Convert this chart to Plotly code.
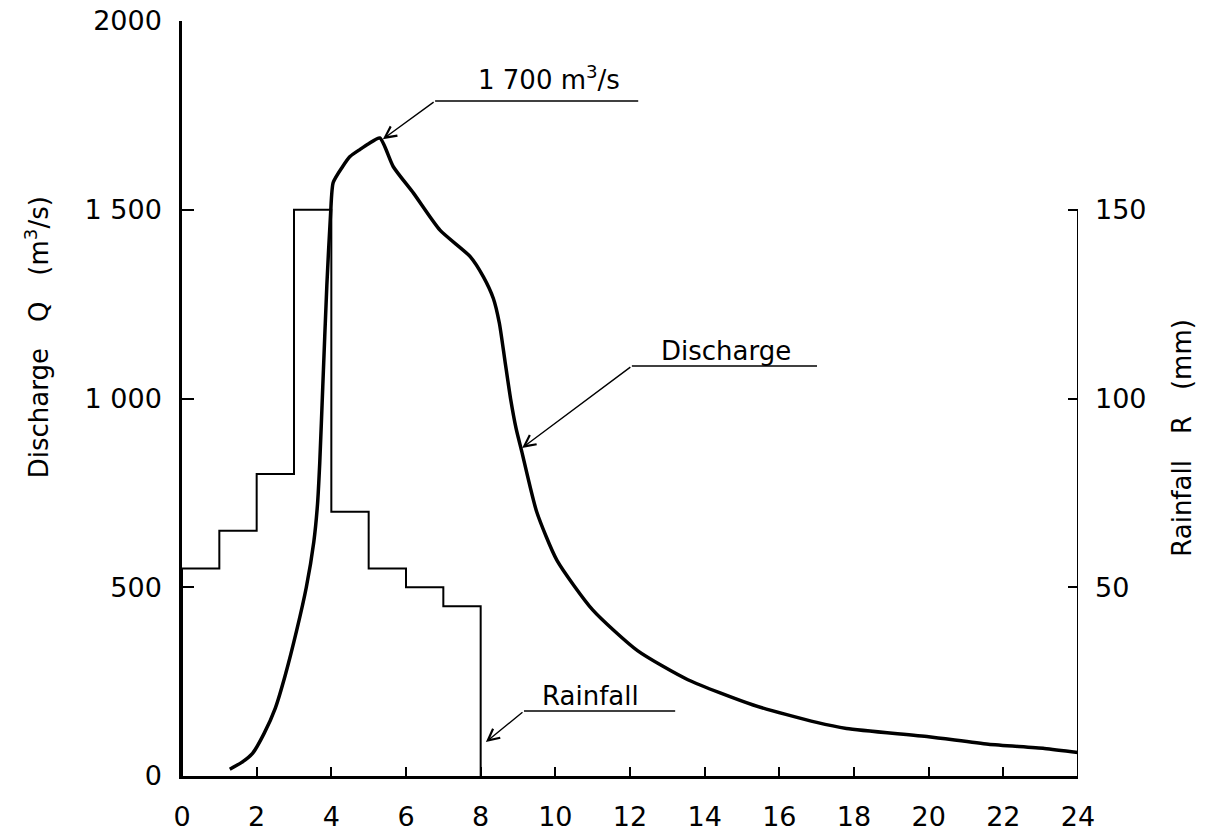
import plotly.graph_objects as go

# ---- data ----
rain_start_hour = [0, 1, 2, 3, 4, 5, 6, 7]
rain_end_hour = 8
rain_mm = [55, 65, 80, 150, 70, 55, 50, 45]

q_hour = [1.28, 1.6, 1.89, 2.2, 2.5, 2.76, 3.07, 3.33, 3.53, 3.63, 3.69, 3.77, 3.88, 3.98,
          4.05, 4.3, 4.5, 4.77, 5.0, 5.3, 5.66, 6.2, 6.91, 7.72, 8.07, 8.34, 8.5,
          8.65, 8.8, 8.95, 9.1, 9.5, 10.04, 11.0, 12.2, 13.55, 15.3, 17.0, 17.8, 20.0,
          21.6, 23.1, 24.0]
q_m3s = [18, 36, 60, 113, 180, 265, 385, 500, 620, 720, 830, 1030, 1300, 1490,
         1572, 1614, 1641, 1660, 1675, 1690, 1614, 1544, 1446, 1376, 1323, 1265, 1200,
         1100, 1000, 920, 860, 700, 572, 440, 332, 255, 188, 142, 126, 104,
         84, 73, 62]

x_ticks = list(range(0, 25, 2))
q_ticks = [0, 500, 1000, 1500, 2000]
q_ticklabels = ["0", "500", "1 000", "1 500", "2000"]
r_ticks = [50, 100, 150]
r_ticklabels = ["50", "100", "150"]

FONT = "DejaVu Sans"
INK = "black"
FS = 27

rx = [rain_start_hour[0]] + rain_start_hour + [rain_end_hour, rain_end_hour]
ry = [0] + rain_mm + [rain_mm[-1], 0]

fig = go.Figure()
fig.add_trace(go.Scatter(x=rx, y=ry, mode="lines", yaxis="y2",
                         line=dict(color=INK, width=2, shape="hv"),
                         showlegend=False, hoverinfo="skip"))
fig.add_trace(go.Scatter(x=q_hour, y=q_m3s, mode="lines",
                         line=dict(color=INK, width=3.5, shape="spline", smoothing=0.6),
                         showlegend=False))

# right axis line only up to 150 mm
fig.add_shape(type="line", xref="x", yref="y", x0=24, x1=24, y0=0, y1=1500,
              line=dict(color=INK, width=2))

# annotation leaders: underline + arrow
def label(text, tx, ty, ux0, ux1, uy, tipx, tipy):
    fig.add_shape(type="line", xref="x", yref="y", x0=ux0, x1=ux1, y0=uy, y1=uy,
                  line=dict(color=INK, width=1.6))
    fig.add_annotation(x=tipx, y=tipy, ax=ux0, ay=uy, axref="x", ayref="y",
                       xref="x", yref="y", text="", showarrow=True,
                       arrowhead=5, arrowsize=1.6, arrowwidth=1.4, arrowcolor=INK)
    fig.add_annotation(x=tx, y=ty, xref="x", yref="y", text=text, showarrow=False,
                       font=dict(family=FONT, size=FS - 1, color=INK),
                       xanchor="center", yanchor="middle")

label("1 700 m<sup>3</sup>/s", 9.83, 1850, 6.78, 12.22, 1788, 5.38, 1687)
label("Discharge", 14.57, 1125, 12.05, 17.01, 1086, 9.11, 869)
label("Rainfall", 10.93, 211, 9.16, 13.21, 172, 8.14, 90)

# axis titles
fig.add_annotation(xref="paper", yref="paper", x=0, y=0.581, xshift=-145,
                   text="Discharge\u2003Q\u2003(m<sup>3</sup>/s)", textangle=-90,
                   showarrow=False, font=dict(family=FONT, size=FS - 1, color=INK),
                   xanchor="center", yanchor="middle")
fig.add_annotation(xref="paper", yref="paper", x=1, y=0.448, xshift=104,
                   text="Rainfall\u2003R\u2003(mm)", textangle=-90,
                   showarrow=False, font=dict(family=FONT, size=FS - 1, color=INK),
                   xanchor="center", yanchor="middle")

fig.update_layout(
    width=1206, height=836,
    margin=dict(l=182, r=128, t=21, b=60, autoexpand=False),
    plot_bgcolor="white", paper_bgcolor="white",
    font=dict(family=FONT, size=FS, color=INK),
    xaxis=dict(range=[0, 24], tickvals=x_ticks, ticktext=[str(v) for v in x_ticks],
               ticks="inside", ticklen=9, tickwidth=1.5, tickcolor=INK,
               showline=True, linecolor=INK, linewidth=2.5, showgrid=False,
               zeroline=False, ticklabelstandoff=15, automargin=False),
    yaxis=dict(range=[0, 2000], tickvals=q_ticks, ticktext=q_ticklabels,
               ticks="inside", ticklen=12, tickwidth=2, tickcolor=INK,
               showline=True, linecolor=INK, linewidth=2.5, showgrid=False,
               zeroline=False, ticklabelstandoff=12, automargin=False),
    yaxis2=dict(range=[0, 200], overlaying="y", side="right", tickvals=r_ticks,
                ticktext=r_ticklabels, ticks="inside", ticklen=10, tickwidth=2,
                tickcolor=INK, showline=False, showgrid=False, zeroline=False,
                ticklabelstandoff=16, automargin=False),
)

fig.write_html("out.html")
